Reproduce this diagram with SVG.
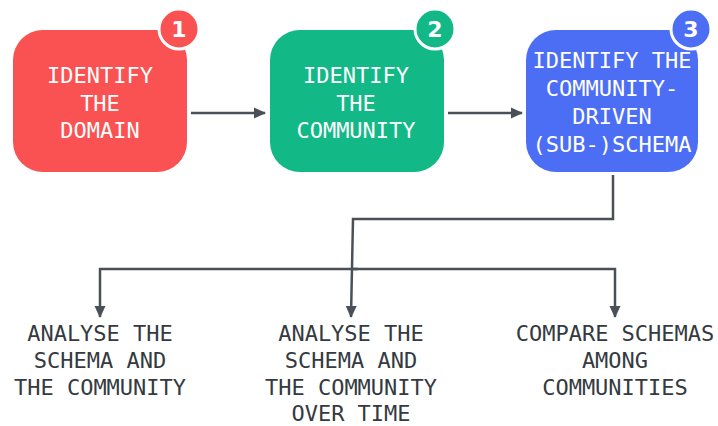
<svg xmlns="http://www.w3.org/2000/svg" width="718" height="426" viewBox="0 0 718 426">
<style>
.box-text{font-family:"DejaVu Sans Mono","Liberation Mono",monospace;font-size:22px;fill:#ffffff;text-anchor:middle}
.label{font-family:"DejaVu Sans Mono","Liberation Mono",monospace;font-size:22px;fill:#343a40;text-anchor:middle}
.badge-text{font-family:"DejaVu Sans","Liberation Sans",sans-serif;font-size:22px;fill:#ffffff;text-anchor:middle;font-weight:bold}
.conn{fill:none;stroke:#495057;stroke-width:2.5;stroke-linejoin:miter}
.badge{stroke:#ffffff;stroke-width:3}
</style>
<defs>
<marker id="arrow" viewBox="0 0 12 12" refX="11" refY="6" markerWidth="12" markerHeight="12" markerUnits="userSpaceOnUse" orient="auto">
<path d="M0,0.5 L12,6 L0,11.5 Z" fill="#495057"/>
</marker>
</defs>
<g id="connectors">
<path class="conn" d="M191,113 L265,113" marker-end="url(#arrow)"/>
<path class="conn" d="M448,113 L522,113" marker-end="url(#arrow)"/>
<path class="conn" d="M613,175 L613,219 L353,219 L351,317" marker-end="url(#arrow)"/>
<path class="conn" d="M358,269 L100,269 L100,317" marker-end="url(#arrow)"/>
<path class="conn" d="M352,269 L615,269 L615,317" marker-end="url(#arrow)"/>
</g>
<g id="node-domain">
<rect x="13" y="30" width="174" height="142" rx="30" fill="#fa5252"/>
<text class="box-text" x="100" y="83">IDENTIFY</text>
<text class="box-text" x="100" y="110.5">THE</text>
<text class="box-text" x="100" y="138">DOMAIN</text>
<circle class="badge" cx="179" cy="29" r="20" fill="#fa5252"/>
<text class="badge-text" x="179" y="37">1</text>
</g>
<g id="node-community">
<rect x="270" y="30" width="174" height="142" rx="30" fill="#12b886"/>
<text class="box-text" x="356" y="83">IDENTIFY</text>
<text class="box-text" x="356" y="110.5">THE</text>
<text class="box-text" x="356" y="138">COMMUNITY</text>
<circle class="badge" cx="435" cy="29" r="20" fill="#12b886"/>
<text class="badge-text" x="435" y="37">2</text>
</g>
<g id="node-schema">
<rect x="526" y="30" width="172" height="142" rx="30" fill="#4c6ef5"/>
<text class="box-text" x="612" y="68">IDENTIFY THE</text>
<text class="box-text" x="612" y="96">COMMUNITY-</text>
<text class="box-text" x="612" y="124">DRIVEN</text>
<text class="box-text" x="612" y="152">(SUB-)SCHEMA</text>
<circle class="badge" cx="691" cy="29" r="20" fill="#4c6ef5"/>
<text class="badge-text" x="691" y="37">3</text>
</g>
<g id="node-analyse">
<text class="label" x="100" y="341">ANALYSE THE</text>
<text class="label" x="100" y="368">SCHEMA AND</text>
<text class="label" x="100" y="395">THE COMMUNITY</text>
</g>
<g id="node-analyse-time">
<text class="label" x="351" y="341">ANALYSE THE</text>
<text class="label" x="351" y="368">SCHEMA AND</text>
<text class="label" x="351" y="395">THE COMMUNITY</text>
<text class="label" x="351" y="421">OVER TIME</text>
</g>
<g id="node-compare">
<text class="label" x="615" y="341">COMPARE SCHEMAS</text>
<text class="label" x="615" y="368">AMONG</text>
<text class="label" x="615" y="395">COMMUNITIES</text>
</g>
</svg>
